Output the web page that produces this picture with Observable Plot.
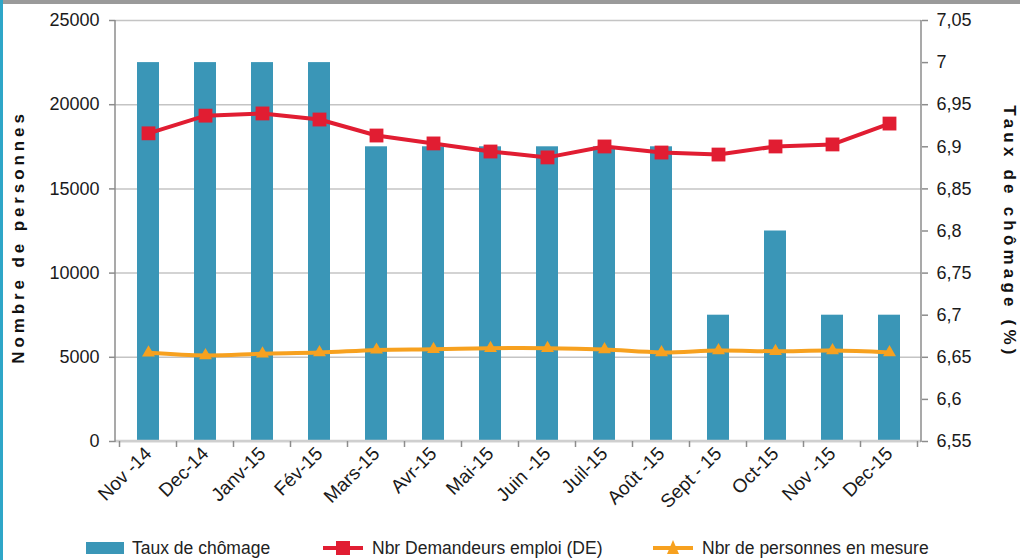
<!DOCTYPE html>
<html>
<head>
<meta charset="utf-8">
<script src="https://cdn.jsdelivr.net/npm/d3@7"></script>
<script src="https://cdn.jsdelivr.net/npm/@observablehq/plot@0.6"></script>
<style>
  body { margin: 0; background: #fff; font-family: "Liberation Sans", Arial, Helvetica, sans-serif; }
  #wrap { position: relative; width: 1020px; height: 560px; overflow: hidden; background: #fff; }
  #topbar { position: absolute; left: 0; top: 0; width: 1020px; height: 4px; background: #9a9a9a; }
  #leftbar { position: absolute; left: 0; top: 0; width: 3px; height: 560px; background: #2ea6c8; }
  #chart { position: absolute; left: 0; top: 0; }
  .ytitle { position: absolute; font-weight: bold; font-size: 17px; color: #111; white-space: nowrap; }
  #legend { position: absolute; left: 0; top: 536px; width: 1020px; height: 24px; font-size: 17.5px; color: #222; }
  .li { position: absolute; top: 0; display: flex; align-items: center; height: 24px; }
  .li svg { margin-right: 8px; }
</style>
</head>
<body>
<div id="wrap">
  <div id="chart"></div>
  <div id="topbar"></div>
  <div id="leftbar"></div>
  <div class="ytitle" id="ltitle" style="left:19px; top:237px; letter-spacing: 3.9px; transform: translate(-50%,-50%) rotate(-90deg);">Nombre de personnes</div>
  <div class="ytitle" id="rtitle" style="left:1009px; top:232px; letter-spacing: 4.2px; transform: translate(-50%,-50%) rotate(90deg);">Taux de chômage (%)</div>
  <div id="legend"></div>
</div>
<script>
// ---- Data ----
const months = ["Nov -14","Dec-14","Janv-15","Fév-15","Mars-15","Avr-15","Mai-15","Juin -15","Juil-15","Août -15","Sept - 15","Oct-15","Nov -15","Dec-15"];
const tauxChomage = [7.0, 7.0, 7.0, 7.0, 6.9, 6.9, 6.9, 6.9, 6.9, 6.9, 6.7, 6.8, 6.7, 6.7];
const demandeursEmploi = [18300, 19350, 19480, 19120, 18170, 17700, 17220, 16870, 17520, 17160, 17040, 17520, 17640, 18880];
const personnesEnMesure = [5270, 5110, 5210, 5280, 5440, 5480, 5540, 5540, 5460, 5290, 5400, 5360, 5400, 5290];
const leftTicks = [0, 5000, 10000, 15000, 20000, 25000];
const rightTicks = [6.55, 6.6, 6.65, 6.7, 6.75, 6.8, 6.85, 6.9, 6.95, 7.0, 7.05];
const seriesNames = ["Taux de chômage", "Nbr Demandeurs emploi (DE)", "Nbr de personnes en mesure"];

// ---- Styles ----
const C_BAR = "#3a96b7", C_RED = "#e11d32", C_ORANGE = "#f7a11f";
const leftMax = leftTicks[leftTicks.length - 1];
const rMin = rightTicks[0], rMax = rightTicks[rightTicks.length - 1];
const toLeft = v => (v - rMin) / (rMax - rMin) * leftMax;
const fromLeft = v => rMin + v / leftMax * (rMax - rMin);
const fmtRate = v => String(+v.toFixed(2)).replace(".", ",");

const data = months.map((m, i) => ({month: m, taux: tauxChomage[i], de: demandeursEmploi[i], mesure: personnesEnMesure[i]}));

const axisLines = (index, scales, values, dims) => {
  const {x} = scales;
  const L = dims.marginLeft, R = dims.width - dims.marginRight, T = dims.marginTop, B = dims.height - dims.marginBottom;
  const step = x(months[1]) - x(months[0]);
  const bw = x.bandwidth ? x.bandwidth() : 0;
  const g = d3.create("svg:g");
  g.append("line").attr("x1", L).attr("x2", R).attr("y1", B).attr("y2", B).attr("stroke", "#cfcfcf").attr("stroke-width", 2.5);
  g.append("line").attr("x1", L).attr("x2", L).attr("y1", T).attr("y2", B + 1).attr("stroke", "#8c8c8c").attr("stroke-width", 1.5);
  g.append("line").attr("x1", R).attr("x2", R).attr("y1", T).attr("y2", B + 1).attr("stroke", "#8c8c8c").attr("stroke-width", 1.5);
  const bounds = months.map(m => x(m) + bw / 2 - step / 2).concat([x(months[months.length - 1]) + bw / 2 + step / 2]);
  for (const bx of bounds) {
    g.append("line").attr("x1", bx).attr("x2", bx).attr("y1", B).attr("y2", B + 6).attr("stroke", "#8c8c8c").attr("stroke-width", 1.5);
  }
  return g.node();
};

const chart = Plot.plot({
  width: 1020,
  height: 530,
  marginLeft: 115,
  marginRight: 99,
  marginTop: 20,
  marginBottom: 89,
  style: {fontFamily: '"Liberation Sans", Arial, Helvetica, sans-serif', fontSize: "18px", color: "#1a1a1a", background: "transparent"},
  x: {type: "band", domain: months, paddingInner: 0.62, paddingOuter: 0.31, label: null},
  y: {domain: [0, leftMax], label: null},
  marks: [
    Plot.ruleY(leftTicks, {stroke: "#c4c4c4", strokeWidth: 1.5}),
    Plot.barY(data, {x: "month", y1: 0, y2: d => toLeft(d.taux), fill: C_BAR}),
    axisLines,
    Plot.axisY({ticks: leftTicks, tickFormat: d3.format("d"), tickSize: 6, tickPadding: 10, label: null, stroke: "#8c8c8c", strokeWidth: 1.5}),
    Plot.axisY({anchor: "right", ticks: rightTicks.map(toLeft), tickFormat: v => fmtRate(fromLeft(v)), tickSize: 6, tickPadding: 9, label: null, stroke: "#8c8c8c", strokeWidth: 1.5}),
    Plot.axisX({tickRotate: -45, tickSize: 0, tickPadding: 9, label: null, fontSize: 19}),
    Plot.line(data, {x: "month", y: "mesure", stroke: C_ORANGE, strokeWidth: 4, curve: "catmull-rom"}),
    Plot.dot(data, {x: "month", y: "mesure", symbol: "triangle", r: 4.8, fill: C_ORANGE, stroke: "none"}),
    Plot.line(data, {x: "month", y: "de", stroke: C_RED, strokeWidth: 4}),
    Plot.dot(data, {x: "month", y: "de", symbol: "square", r: 7.8, fill: C_RED, stroke: "none"})
  ]
});
document.getElementById("chart").appendChild(chart);

// ---- Legend ----
const legend = document.getElementById("legend");
const items = [
  {name: seriesNames[0], left: 86, svg: `<svg width="38" height="24"><rect x="0" y="6" width="38" height="12" fill="${C_BAR}"/></svg>`},
  {name: seriesNames[1], left: 322, svg: `<svg width="42" height="24"><line x1="1" x2="41" y1="12" y2="12" stroke="${C_RED}" stroke-width="4"/><rect x="14" y="5" width="14" height="14" fill="${C_RED}"/></svg>`},
  {name: seriesNames[2], left: 652, svg: `<svg width="42" height="24"><line x1="1" x2="41" y1="12" y2="12" stroke="${C_ORANGE}" stroke-width="4"/><path d="M21,4 L27,18 L15,18 Z" fill="${C_ORANGE}"/></svg>`}
];
for (const it of items) {
  const d = document.createElement("div");
  d.className = "li";
  d.style.left = it.left + "px";
  d.innerHTML = it.svg + `<span>${it.name}</span>`;
  legend.appendChild(d);
}
</script>
</body>
</html>
